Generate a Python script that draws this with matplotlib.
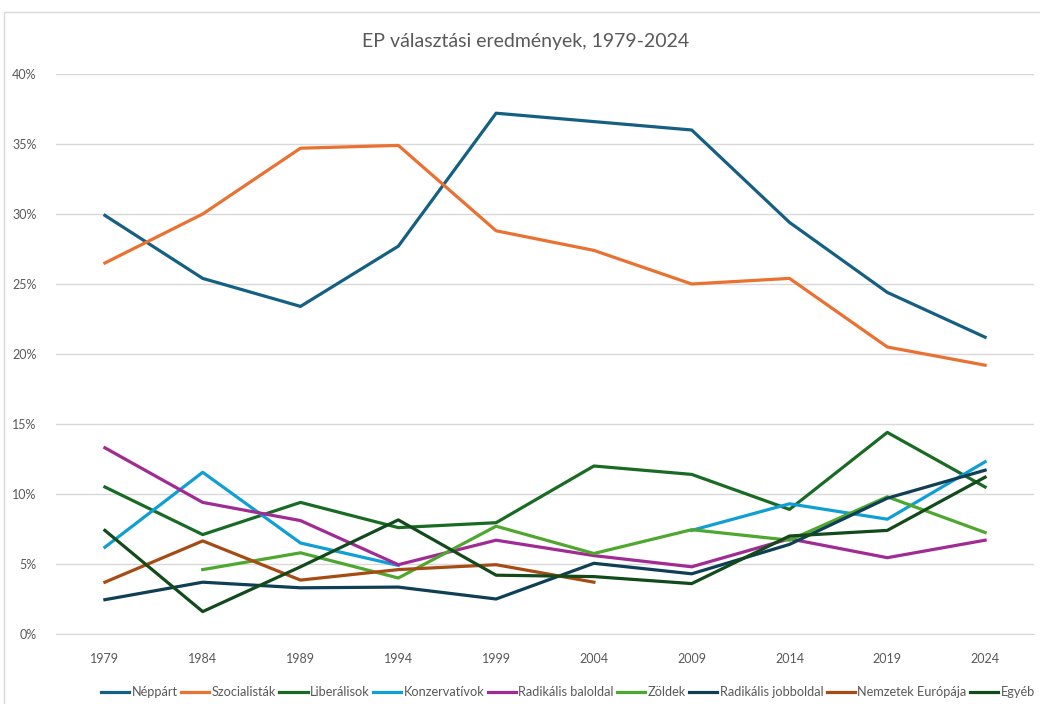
import numpy as np
import matplotlib.pyplot as plt
from matplotlib.patches import Rectangle
from matplotlib.ticker import PercentFormatter

plt.rcParams['font.family'] = ['Lato', 'DejaVu Sans']

years = ['1979', '1984', '1989', '1994', '1999', '2004', '2009', '2014', '2019', '2024']
nan = np.nan

# vote shares in percent
neppart = [29.9, 25.4, 23.4, 27.7, 37.2, 36.6, 36.0, 29.4, 24.4, 21.2]
szocialistak = [26.5, 30.0, 34.7, 34.9, 28.8, 27.4, 25.0, 25.4, 20.5, 19.2]
liberalisok = [10.5, 7.1, 9.4, 7.6, 7.95, 12.0, 11.4, 8.9, 14.4, 10.5]
konzervativok = [6.2, 11.55, 6.5, 4.9, nan, nan, 7.4, 9.3, 8.2, 12.3]
radikalis_baloldal = [13.3, 9.4, 8.1, 4.95, 6.7, 5.6, 4.8, 6.8, 5.45, 6.7]
zoldek = [nan, 4.6, 5.8, 4.0, 7.7, 5.75, 7.45, 6.7, 9.8, 7.25]
radikalis_jobboldal = [2.45, 3.7, 3.3, 3.35, 2.5, 5.05, 4.3, 6.4, 9.7, 11.7]
nemzetek_europaja = [3.7, 6.65, 3.85, 4.6, 4.95, 3.7, nan, nan, nan, nan]
egyeb = [7.4, 1.6, 4.8, 8.15, 4.2, 4.1, 3.6, 7.0, 7.4, 11.2]

series = [
    ('Néppárt', neppart, '#156082'),
    ('Szocialisták', szocialistak, '#E97132'),
    ('Liberálisok', liberalisok, '#196B24'),
    ('Konzervatívok', konzervativok, '#0F9ED5'),
    ('Radikális baloldal', radikalis_baloldal, '#A02B93'),
    ('Zöldek', zoldek, '#4EA72E'),
    ('Radikális jobboldal', radikalis_jobboldal, '#0E3F55'),
    ('Nemzetek Európája', nemzetek_europaja, '#A64B13'),
    ('Egyéb', egyeb, '#124A1B'),
]

fig = plt.figure(figsize=(10.4, 7.04), dpi=100)
ax = fig.add_axes([56 / 1040, 70 / 704, 978 / 1040, 560 / 704])

x = np.arange(len(years))
for name, vals, color in series:
    ax.plot(x, np.array(vals, dtype=float), color=color, linewidth=2.3, label=name)

ax.set_xlim(-0.5, len(years) - 0.5)
ax.set_ylim(0, 40)
ax.set_yticks(np.arange(0, 41, 5))
ax.yaxis.set_major_formatter(PercentFormatter(decimals=0))
ax.set_xticks(x)
ax.set_xticklabels(years)
ax.grid(axis='y', color='#d9d9d9', linewidth=1)
ax.set_axisbelow(True)
for s in ['top', 'right', 'left']:
    ax.spines[s].set_visible(False)
ax.spines['bottom'].set_color('#d9d9d9')
ax.tick_params(length=0, labelsize=9, colors='#595959', pad=14)

fig.text(0.505, 1 - 42 / 704, 'EP választási eredmények, 1979-2024',
         ha='center', va='center', fontsize=14, color='#595959')

# chart area border
fig.patches.append(Rectangle((4 / 1040, -0.01), 1.0, 1 - 12 / 704 + 0.01,
                             transform=fig.transFigure, fill=False,
                             edgecolor='#d9d9d9', linewidth=1))

fig.legend(loc='center', bbox_to_anchor=(568 / 1040, 1 - 692 / 704), ncol=9,
           frameon=False, fontsize=9.2, handlelength=2.2, handletextpad=0.2,
           columnspacing=0.25, labelcolor='#595959')

fig.savefig('out.png', dpi=100)
